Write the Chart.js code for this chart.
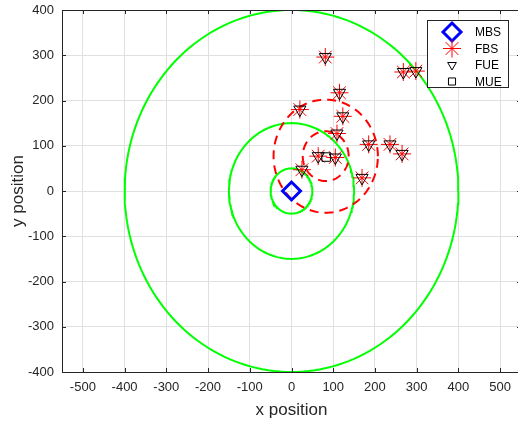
<!DOCTYPE html>
<html>
<head>
<meta charset="utf-8">
<script src="https://cdn.jsdelivr.net/npm/chart.js@4.4.1/dist/chart.umd.min.js"></script>
<style>
  html, body { margin: 0; padding: 0; background: #fff; overflow: hidden; }
  #wrap { width: 522px; height: 421px; }
</style>
</head>
<body>
<div id="wrap"><canvas id="grafico" width="522" height="421"></canvas></div>
<script>
// station / user positions
const mbsX = [0];
const mbsY = [0];
const fbsX = [81, 115, 123, 20, 109, 64, 105, 185, 236, 265, 169, 25, 268, 298];
const fbsY = [296, 217, 165, 180, 127, 77, 74, 103, 103, 82, 29, 47, 263, 265];
const fueX = [81, 115, 123, 20, 109, 64, 105, 185, 236, 265, 169, 25, 268, 298];
const fueY = [296, 217, 165, 180, 127, 77, 74, 103, 103, 82, 29, 47, 263, 265];
const mueX = [83];
const mueY = [75];

// coverage circles
const macroCenter = [0, 0];
const macroRadii = [50, 150, 400];
const femtoCenter = [82, 77];
const femtoRadii = [55, 125];

const xTicks = [-500, -400, -300, -200, -100, 0, 100, 200, 300, 400, 500];
const yTicks = [-400, -300, -200, -100, 0, 100, 200, 300, 400];

const toPts = (xs, ys) => xs.map((x, i) => ({ x: x, y: ys[i] }));

function circlePts(c, r) {
  const pts = [];
  for (let i = 0; i <= 180; i++) {
    const a = (i / 180) * 2 * Math.PI;
    pts.push({ x: c[0] + r * Math.cos(a), y: c[1] + r * Math.sin(a) });
  }
  return pts;
}

const legendItems = [
  { label: "MBS", style: "rectRot", color: "#0000ff", width: 3, radius: 9, legRadius: 9, rot: 0 },
  { label: "FBS", style: "star", color: "#ff0000", width: 1, radius: 9, legRadius: 9, rot: 0 },
  { label: "FUE", style: "triangle", color: "#000000", width: 1, radius: 7, legRadius: 5, rot: 180 },
  { label: "MUE", style: "rect", color: "#000000", width: 1, radius: 6, legRadius: 5, rot: 0 }
];

function markerSet(label, data, item) {
  return {
    label: label,
    data: data,
    showLine: false,
    pointStyle: item.style,
    pointRadius: item.radius,
    pointRotation: item.rot,
    pointBorderColor: item.color,
    pointBackgroundColor: "rgba(0,0,0,0)",
    pointBorderWidth: item.width
  };
}

const datasets = [
  markerSet("MBS", toPts(mbsX, mbsY), legendItems[0]),
  markerSet("MUE", toPts(mueX, mueY), legendItems[3]),
  markerSet("FUE", toPts(fueX, fueY), legendItems[2]),
  markerSet("FBS", toPts(fbsX, fbsY), legendItems[1])
];

femtoRadii.forEach(r => {
  datasets.push({
    data: circlePts(femtoCenter, r),
    showLine: true,
    borderColor: "#ff0000",
    borderWidth: 2,
    borderDash: [9, 6],
    pointRadius: 0,
    tension: 0
  });
});

macroRadii.forEach(r => {
  datasets.push({
    data: circlePts(macroCenter, r),
    showLine: true,
    borderColor: "#00ff00",
    borderWidth: 2,
    pointRadius: 0,
    tension: 0
  });
});

/* box, inner ticks and legend like the matlab figure */
const boxPlugin = {
  id: "boxPlugin",
  afterDatasetsDraw(chart) {
    const ctx = chart.ctx;
    const a = chart.chartArea;
    const xs = chart.scales.x;
    const ys = chart.scales.y;
    ctx.save();
    ctx.strokeStyle = "#262626";
    ctx.lineWidth = 1;
    ctx.beginPath();
    xTicks.forEach(t => {
      const px = Math.round(xs.getPixelForValue(t)) + 0.5;
      ctx.moveTo(px, a.bottom); ctx.lineTo(px, a.bottom - 4);
      ctx.moveTo(px, a.top); ctx.lineTo(px, a.top + 4);
    });
    yTicks.forEach(t => {
      const py = Math.round(ys.getPixelForValue(t)) + 0.5;
      ctx.moveTo(a.left, py); ctx.lineTo(a.left + 4, py);
      ctx.moveTo(a.right, py); ctx.lineTo(a.right - 4, py);
    });
    ctx.stroke();
    ctx.strokeRect(Math.round(a.left) + 0.5, Math.round(a.top) + 0.5,
      Math.round(a.right - a.left) - 1, Math.round(a.bottom - a.top));

    // legend
    const lx = 427, ly = 20, lw = 81, lh = 67;
    ctx.fillStyle = "#fff";
    ctx.fillRect(lx, ly, lw, lh);
    ctx.strokeStyle = "#262626";
    ctx.strokeRect(lx + 0.5, ly + 0.5, lw, lh);
    ctx.font = "12px 'Liberation Sans', Arial, sans-serif";
    ctx.textBaseline = "middle";
    legendItems.forEach((it, i) => {
      const cy = ly + 12 + i * 16.5;
      ctx.strokeStyle = it.color;
      ctx.fillStyle = "rgba(0,0,0,0)";
      ctx.lineWidth = it.width;
      Chart.helpers.drawPoint(ctx, {
        pointStyle: it.style,
        rotation: it.rot,
        radius: it.legRadius,
        borderWidth: it.width
      }, 452, cy);
      ctx.fillStyle = "#000";
      ctx.fillText(it.label, 475, cy + 1);
    });
    ctx.restore();
  }
};

const tickFont = { family: "'Liberation Sans', Arial, sans-serif", size: 13 };
const titleFont = { family: "'Liberation Sans', Arial, sans-serif", size: 17 };

let chart = new Chart(document.getElementById("grafico"), {
  type: "scatter",
  data: { datasets: datasets },
  options: {
    responsive: false,
    animation: false,
    events: [],
    layout: { autoPadding: false, padding: { top: 10, right: 1, left: 0, bottom: 0 } },
    plugins: { legend: { display: false }, tooltip: { enabled: false } },
    scales: {
      x: {
        type: "linear",
        min: -550,
        max: 550,
        afterBuildTicks: s => { s.ticks = xTicks.map(v => ({ value: v })); },
        afterFit: s => { s.height = 49; s.paddingLeft = 0; s.paddingRight = 0; },
        grid: { color: "#e0e0e0", drawTicks: false },
        border: { display: false },
        ticks: { font: tickFont, color: "#262626", padding: 8, maxRotation: 0 },
        title: { display: true, text: "x position", font: titleFont, color: "#262626", padding: { top: 2, bottom: 0 } }
      },
      y: {
        type: "linear",
        min: -400,
        max: 400,
        afterBuildTicks: s => { s.ticks = yTicks.map(v => ({ value: v })); },
        afterFit: s => { s.width = 62; s.paddingTop = 0; s.paddingBottom = 0; },
        grid: { color: "#e0e0e0", drawTicks: false },
        border: { display: false },
        ticks: { font: tickFont, color: "#262626", padding: 8 },
        title: { display: true, text: "y position", font: titleFont, color: "#262626", padding: { top: 8, bottom: 0 } }
      }
    }
  },
  plugins: [boxPlugin]
});
</script>
</body>
</html>
